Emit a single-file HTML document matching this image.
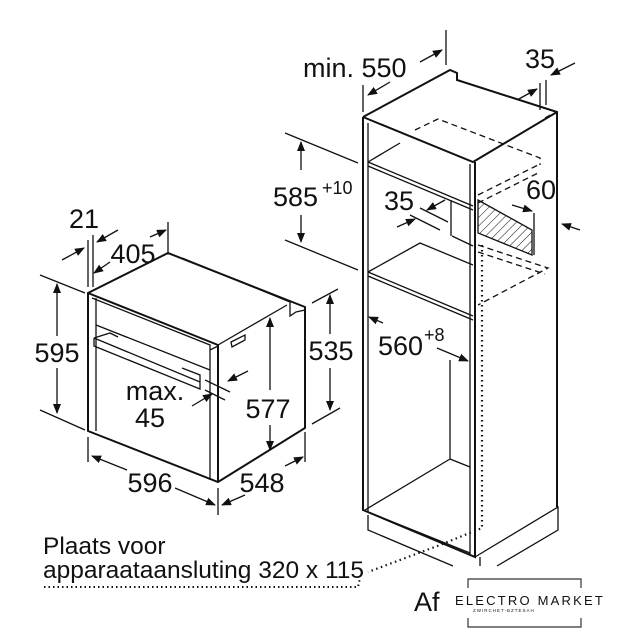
<!DOCTYPE html>
<html><head><meta charset="utf-8"><style>
html,body{margin:0;padding:0;background:#fff}
svg{display:block}
text{font-family:"Liberation Sans",Arial,sans-serif;fill:#111}
</style></head><body>
<svg width="640" height="640" viewBox="0 0 640 640" xmlns="http://www.w3.org/2000/svg">
<defs>
<marker id="a" markerWidth="10" markerHeight="8" refX="9" refY="4" orient="auto" markerUnits="userSpaceOnUse"><path d="M0,0 L10,4 L0,8 z" fill="#111"/></marker>
<pattern id="h" width="6" height="6" patternUnits="userSpaceOnUse" patternTransform="rotate(45)"><line x1="0" y1="0" x2="0" y2="6" stroke="#111" stroke-width="1"/></pattern>
</defs>
<g stroke="#111" fill="none" stroke-width="1.3">
<!-- OVEN -->
<path d="M88,293 L168,253 L305,307 L305,428 L218,482 L88,431 Z" stroke-width="2"/>
<path d="M88,293 L218,345 L218,482" stroke-width="2"/>
<path d="M218,345 L287,305"/>
<path d="M92,298 L210,345 L210,480"/>
<path d="M96,325 L210,370"/>
<path d="M96,298 L96,431"/>
<path d="M182,258 L290,302 L290,316 L296,312 L305,310"/>
<path d="M94,338 L200,382 L200,375 L182,368 M94,338 L94,346 L200,389 L200,382 M94,338 L110,333 L118,337"/>
<path d="M231,342 L245,335 L245,340 L232,347 Z"/>
<path d="M210,350 L218,346"/>
<!-- oven dims -->
<path d="M40,275 L85,293 M40,410 L85,430"/>
<path d="M57,336 L57,284" marker-end="url(#a)"/><path d="M57,368 L57,413" marker-end="url(#a)"/>
<path d="M88,240 L88,287 M93,235 L93,287 M168,222 L168,253"/>
<path d="M62,260 L84,248" marker-end="url(#a)"/><path d="M118,230 L97,242" marker-end="url(#a)"/>
<path d="M150,237 L166,230" marker-end="url(#a)"/><path d="M110,262 L94,273" marker-end="url(#a)"/>
<path d="M312,303 L338,289 M312,424 L340,408"/>
<path d="M330,334 L330,295" marker-end="url(#a)"/><path d="M330,368 L330,410" marker-end="url(#a)"/>
<path d="M270,390 L270,318" marker-end="url(#a)"/><path d="M270,425 L270,450" marker-end="url(#a)"/>
<path d="M88,437 L88,462 M218,488 L218,515 M305,432 L305,462"/>
<path d="M127,470 L92,456" marker-end="url(#a)"/><path d="M175,488 L215,505" marker-end="url(#a)"/>
<path d="M245,495 L222,505" marker-end="url(#a)"/><path d="M285,466 L303,457" marker-end="url(#a)"/>
<path d="M205,380 L230,392 M205,390 L225,400"/>
<path d="M248,371 L228,381" marker-end="url(#a)"/><path d="M192,406 L212,394" marker-end="url(#a)"/>
<!-- CABINET -->
<path d="M363,117 L450,70 L457,73 L457,80 L557,112 L557,507" stroke-width="2"/>
<path d="M363,117 L473,162 L557,112" stroke-width="2"/>
<path d="M363,117 L363,510 L475,557 L475,162" stroke-width="2"/>
<path d="M368,123 L368,512 M470,164 L470,555 M550,115 L545,118"/>
<path d="M368,162 L473,206 M368,166 L473,210 M368,162 L400,143"/>
<path d="M368,272 L473,316 M368,276 L473,320 M368,272 L420,243 L473,265"/>
<path d="M368,515 L368,530 L453,566 M480,557 L480,566 M475,557 L558,507 L558,530 L497,566"/>
<path d="M368,512 L470,553"/>
<path d="M451,236 L451,200 M452,236 L473,246"/>
<path d="M450,360 L450,459 L470,467 M365,510 L450,459"/>
<path d="M478,200 L532,230 L532,255 L478,233 Z" fill="url(#h)"/>
<path d="M478,195 L538,165 M478,203 L538,173" stroke-dasharray="6,4"/>
<path d="M415,130 L438,119 L540,158 L540,165" stroke-dasharray="6,4"/>
<path d="M478,245 L548,268 L478,305 M478,252 L545,274" stroke-dasharray="6,4"/>
<path d="M482,245 L482,528 L440,545 L368,572" stroke-dasharray="1.5,3.5" stroke-width="2.2"/>
<path d="M44,587 L358,587 L360,578" stroke-dasharray="1.5,3" stroke-width="2"/>
<!-- cabinet dims -->
<path d="M363,112 L363,85 M446,30 L446,65 M540,83 L540,110 M546,80 L546,105"/>
<path d="M390,82 L368,95" marker-end="url(#a)"/><path d="M420,62 L442,50" marker-end="url(#a)"/>
<path d="M517,100 L537,89" marker-end="url(#a)"/><path d="M575,63 L551,75" marker-end="url(#a)"/>
<path d="M285,133 L358,163 M285,240 L358,270"/>
<path d="M301,170 L301,142" marker-end="url(#a)"/><path d="M301,215 L301,242" marker-end="url(#a)"/>
<path d="M420,208 L448,222 M410,215 L440,230"/>
<path d="M445,200 L427,210" marker-end="url(#a)"/><path d="M397,227 L415,219" marker-end="url(#a)"/>
<path d="M534,213 L534,255"/><path d="M512,205 L532,211" marker-end="url(#a)"/>
<path d="M580,230 L562,224" marker-end="url(#a)"/>
<path d="M383,323 L369,317" marker-end="url(#a)"/><path d="M437,348 L468,361" marker-end="url(#a)"/>
<!-- logo -->
<path d="M468,588 L468,579 L581,579 L581,588 M468,618 L468,627 L581,627 L581,618" stroke="#333" stroke-width="1.2"/>
</g>
<g font-size="27">
<text x="57" y="362" text-anchor="middle">595</text>
<text x="84" y="228" text-anchor="middle">21</text>
<text x="133" y="263" text-anchor="middle">405</text>
<text x="331" y="360" text-anchor="middle">535</text>
<text x="268" y="418" text-anchor="middle">577</text>
<text x="150" y="492" text-anchor="middle">596</text>
<text x="262" y="492" text-anchor="middle">548</text>
<text x="155" y="400" text-anchor="middle">max.</text>
<text x="150" y="427" text-anchor="middle">45</text>
<text x="303" y="77">min. 550</text>
<text x="540" y="68" text-anchor="middle">35</text>
<text x="273" y="206">585</text><text x="322" y="194" font-size="18">+10</text>
<text x="399" y="210" text-anchor="middle">35</text>
<text x="541" y="199" text-anchor="middle">60</text>
<text x="378" y="355">560</text><text x="424" y="341" font-size="18">+8</text>
</g>
<text x="43" y="554" font-size="24.5">Plaats voor</text>
<text x="43" y="578" font-size="24.5">apparaataansluting 320 x 115</text>
<text x="414" y="611" font-size="27">Af</text>
<text x="455" y="605" font-size="13" letter-spacing="2.2">ELECTRO MARKET</text>
<text x="473" y="612" font-size="4.5" fill="#666" letter-spacing="1">ZWIRCHET-BZTESAH</text>
</svg>
</body></html>
